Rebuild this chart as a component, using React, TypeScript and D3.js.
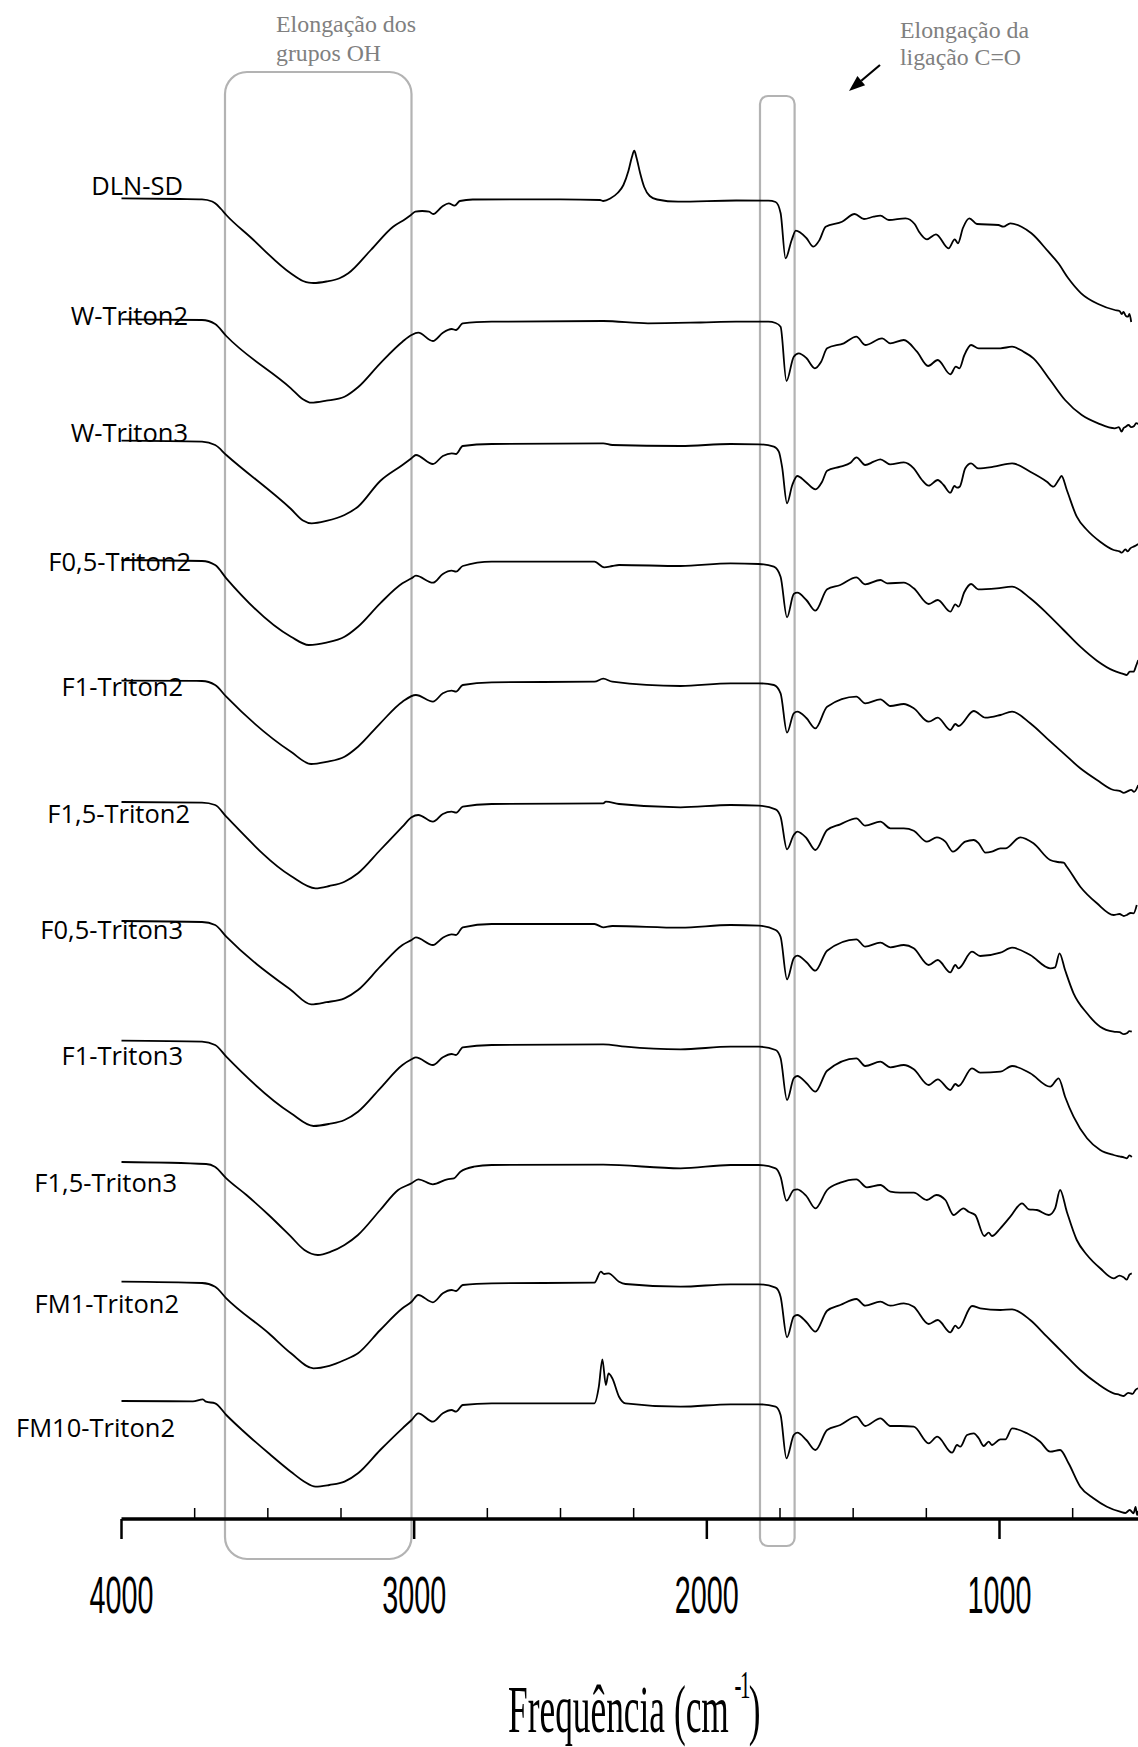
import React from 'react';
import * as d3 from 'd3';

type Pt = [number, number];

// sample labels (top to bottom)
const SAMPLE_NAMES = [
  'DLN-SD', 'W-Triton2', 'W-Triton3', 'F0,5-Triton2', 'F1-Triton2', 'F1,5-Triton2',
  'F0,5-Triton3', 'F1-Triton3', 'F1,5-Triton3', 'FM1-Triton2', 'FM10-Triton2',
];

// spectra: [wavenumber cm-1, transmittance (a.u.)]
const DLN_SD: Pt[] = [[4000,100.7],[3800,100],[3725,99.7],[3690,97.5],[3680,95.7],[3660,90],[3642,84],[3560,62],[3422,25.7],[3380,18],[3360,16.3],[3344,16],[3300,17.5],[3255,20.7],[3225,25.7],[3148,49],[3072,72.3],[3030,80],[3011,84],[2996,87.3],[2973,88],[2949,87.3],[2935,85],[2905,92.3],[2882,95.7],[2862,93.3],[2844,98],[2800,99.5],[2500,99.7],[2365,99],[2354,98],[2330,100.5],[2305,106],[2285,114],[2268,128],[2256,142],[2248,148.3],[2240,141],[2228,126],[2214,112],[2195,103],[2170,99.5],[2098,97.3],[1900,98.5],[1790,98.3],[1765,97],[1748,86],[1731,40.7],[1710,59],[1696,68.3],[1660,61],[1636,52.3],[1615,59],[1594,72.3],[1538,77.3],[1495,85],[1463,80],[1430,82.3],[1407,83.3],[1378,79],[1321,80.7],[1290,75],[1275,67.3],[1248,59.7],[1217,64.7],[1174,50.7],[1153,59.7],[1142,55.7],[1125,71],[1103,80.7],[1077,75],[1004,74],[987,72.3],[963,75.7],[925,72.3],[891,65.7],[833,47.3],[799,35.7],[765,20.7],[721,5.7],[663,-5],[606,-11],[590,-12],[582,-15],[576,-13],[568,-17],[561,-17.7],[556,-15],[550,-23]];
const W_TRITON2: Pt[] = [[4000,99.9],[3725,99.2],[3680,95.2],[3642,83.2],[3421,30.9],[3380,20],[3352,16.5],[3300,18.5],[3238,22.5],[3192,31.9],[3116,55.9],[3040,77.5],[3009,84.2],[2986,86.5],[2936,78.2],[2902,86.5],[2872,90.2],[2857,89.2],[2834,95.9],[2735,97.5],[2354,98.2],[2201,95.9],[2021,96.7],[1900,97.5],[1790,97.5],[1765,96.2],[1748,92.5],[1728,38.2],[1703,62.5],[1686,65.9],[1660,61.2],[1631,50.9],[1610,57.2],[1589,70.9],[1532,75.9],[1489,82.5],[1459,74.2],[1401,80.9],[1373,75.9],[1327,79.2],[1282,67.5],[1244,53.2],[1211,59.2],[1168,44.9],[1149,52.5],[1137,50.9],[1120,64.2],[1097,74.2],[1071,70.9],[997,70.9],[957,72.5],[918,67.5],[884,60.9],[827,39.2],[776,19.2],[719,4.2],[663,-4.1],[606,-9.1],[592,-8],[583,-12.5],[576,-9],[570,-7.8],[559,-5.8],[550,-8],[540,-6.8],[533,-4],[526,-4.8]];
const W_TRITON3: Pt[] = [[4000,98.7],[3725,97.7],[3680,94.4],[3642,84.4],[3421,30.4],[3380,19],[3350,16.1],[3300,18.5],[3238,24.4],[3192,32.7],[3116,58.4],[3040,74.4],[3009,81.1],[2994,84.4],[2936,75.4],[2902,83.4],[2872,86.1],[2857,85.4],[2834,93.4],[2735,95.4],[2354,96.1],[2323,94.4],[2090,93.4],[1919,95.4],[1822,95.1],[1771,92.7],[1754,87.7],[1743,72.7],[1726,36.1],[1708,54.4],[1691,63.4],[1663,57.7],[1629,50.1],[1606,57.7],[1589,68.7],[1544,72.7],[1509,76.7],[1489,82.1],[1459,74.4],[1430,77.7],[1407,80.1],[1374,75.1],[1327,77.1],[1293,71.1],[1265,59.4],[1242,53.7],[1211,59.4],[1191,54.4],[1168,46.7],[1154,53.4],[1145,51.7],[1136,52.7],[1117,71.1],[1097,76.1],[1073,71.1],[1020,72.7],[957,76.1],[895,67.7],[838,57.7],[816,52.7],[798,59.4],[788,63.4],[770,49.4],[736,22.7],[701,9.4],[656,-2.3],[610,-10.6],[590,-12],[582,-13.3],[570,-10],[562,-12],[553,-8.9],[540,-7],[526,-4.6]];
const F05_TRITON2: Pt[] = [[4000,99.6],[3725,98.6],[3680,94.6],[3642,81.3],[3421,22.9],[3360,14.6],[3300,17],[3238,22.9],[3192,32.9],[3116,56.3],[3040,76.3],[3009,81.3],[2994,83.9],[2936,76.9],[2902,85.6],[2872,88.9],[2857,87.9],[2834,93.6],[2735,97.9],[2384,97.9],[2351,92.3],[2323,93.6],[2300,94.6],[2090,93.6],[1919,96.3],[1822,95.6],[1771,92.9],[1748,82.9],[1726,42.3],[1703,65.6],[1691,66.9],[1660,59.6],[1629,48.9],[1589,70.3],[1544,74.6],[1489,82.3],[1459,75.3],[1407,79.6],[1384,76.3],[1327,76.9],[1293,71.3],[1242,55.6],[1211,59.6],[1168,47.9],[1151,55.3],[1140,52.9],[1120,67.6],[1097,75.6],[1073,70.3],[1009,71.3],[957,72.9],[895,61.3],[838,46.3],[781,29.6],[724,12.9],[667,-1.1],[610,-11.1],[580,-14],[565,-15.4],[555,-12],[542,-12.1],[533,-6],[526,-0.4]];
const F1_TRITON2: Pt[] = [[4000,99.1],[3725,98.8],[3680,94.8],[3642,83.1],[3421,28],[3352,15.8],[3300,18],[3238,23.1],[3192,33.1],[3116,56.5],[3040,78.1],[2994,84.8],[2936,78.1],[2902,86.5],[2872,89.1],[2857,88.1],[2834,94.8],[2735,97.5],[2384,98.1],[2354,101.1],[2323,98.1],[2090,93.8],[1919,96.5],[1822,96.5],[1771,94.8],[1748,86.5],[1726,47.1],[1703,66.5],[1691,68.1],[1660,61.8],[1629,51.5],[1589,73.1],[1489,83.1],[1459,76.5],[1407,80.5],[1373,73.8],[1327,75.8],[1293,71.5],[1242,58.1],[1211,62.1],[1168,49.8],[1151,55.8],[1140,53.8],[1088,68.8],[1048,62.1],[997,64.8],[957,68.1],[895,56.5],[838,41.5],[781,26.5],[724,11.5],[667,-0.2],[610,-10.2],[590,-11],[575,-13],[565,-11.9],[550,-10],[540,-12],[526,-5.2]];
const F15_TRITON2: Pt[] = [[4000,98],[3725,97.3],[3680,95],[3642,83.3],[3421,24],[3337,11.7],[3290,14],[3238,18.3],[3192,26.7],[3116,50],[3040,73.3],[3009,82.7],[2986,85],[2936,78.3],[2902,86],[2872,88.3],[2857,87.3],[2834,93.3],[2735,96],[2354,96.7],[2345,98.3],[2300,96],[2090,92.7],[1919,95],[1822,94.3],[1765,90.7],[1748,83.3],[1726,50.7],[1703,65],[1691,68.3],[1660,62],[1629,50],[1589,70],[1544,75.7],[1489,81.7],[1459,74.3],[1407,78.3],[1373,71.7],[1327,71.7],[1293,69.3],[1248,58.3],[1214,62.7],[1185,58.3],[1159,48.3],[1117,58.3],[1088,60],[1071,56.7],[1048,47.3],[1026,48.3],[997,51.7],[980,51.7],[929,62.7],[884,56.7],[827,40],[800,38],[781,37.3],[770,33.3],[724,13.3],[667,-3.3],[610,-15],[590,-14],[575,-16],[565,-15],[552,-13],[542,-13.3],[531,-5]];
const F05_TRITON3: Pt[] = [[4000,99.2],[3725,98.2],[3680,95.2],[3642,83.5],[3421,30.2],[3352,15.9],[3300,18],[3238,21.9],[3192,30.2],[3116,53.5],[3040,75.2],[3009,80.2],[2994,82.9],[2936,75.2],[2902,82.5],[2872,85.9],[2857,85.2],[2834,92.9],[2735,96.2],[2384,96.2],[2354,92.9],[2323,94.2],[2090,92.5],[1919,95.2],[1822,94.5],[1765,90.2],[1748,83.5],[1726,40.9],[1703,61.9],[1691,64.5],[1660,58.2],[1629,49.5],[1589,69.5],[1489,80.9],[1459,73.5],[1407,77.5],[1373,72.9],[1327,75.2],[1293,71.9],[1242,55.2],[1211,60.2],[1168,47.9],[1151,55.2],[1140,51.9],[1094,68.5],[1066,64.2],[997,67.5],[957,72.5],[895,65.2],[827,51.9],[810,52.9],[795,66.9],[776,50.2],[747,26.9],[701,6.9],[656,-6.5],[610,-11.5],[590,-12],[575,-14],[565,-13.1],[556,-11],[548,-11.5]];
const F1_TRITON3: Pt[] = [[4000,99.7],[3725,98.7],[3680,95.4],[3642,83.7],[3421,27.1],[3344,14.4],[3290,16.5],[3238,20.4],[3192,28.7],[3116,52.1],[3040,75.4],[3009,81.1],[2994,83.1],[2936,75.4],[2902,83.1],[2872,86.4],[2857,85.4],[2834,93.1],[2735,95.4],[2354,96.1],[2278,93.7],[2090,91.1],[1919,93.7],[1822,93.7],[1765,90.4],[1748,82.1],[1726,40.4],[1703,62.1],[1691,64.4],[1660,57.4],[1629,48.7],[1589,69.7],[1489,82.1],[1459,74.4],[1407,78.7],[1373,73.1],[1327,75.4],[1293,71.1],[1242,55.4],[1211,61.1],[1168,50.4],[1151,56.4],[1140,54.4],[1094,72.1],[1066,67.7],[997,68.7],[957,74.4],[895,67.1],[827,53.7],[798,62.1],[776,43.7],[747,23.7],[701,2.1],[656,-9.6],[610,-14.6],[590,-16],[575,-17],[565,-17.9],[556,-15],[548,-16.6]];
const F15_TRITON3: Pt[] = [[4000,98.6],[3711,96.6],[3681,93.9],[3642,82.3],[3573,65.6],[3497,45.6],[3421,23.9],[3375,10.6],[3329,5.6],[3285,8.9],[3238,15.6],[3192,25.6],[3116,50.6],[3055,70.6],[3009,77.3],[2986,81.3],[2936,76.3],[2887,81.3],[2864,82.3],[2842,88.9],[2796,93.9],[2735,95.6],[2354,95.9],[2090,92.3],[1919,95.6],[1822,95.6],[1765,92.3],[1748,83.9],[1728,59.9],[1703,70.6],[1691,71.3],[1660,64.6],[1629,52.3],[1589,70.6],[1544,77.9],[1489,81.3],[1453,73.3],[1407,75.6],[1373,68.9],[1339,67.9],[1293,67.9],[1248,60.6],[1216,65.6],[1185,60.6],[1157,45.6],[1123,52.3],[1106,48.9],[1083,45.6],[1052,24.6],[1037,27.9],[1026,24.6],[997,32.3],[963,43.9],[923,57.3],[900,51.3],[872,50.6],[832,45.6],[810,52.3],[793,70.6],[770,48.9],[736,20.6],[701,5.6],[656,-7.7],[610,-17.7],[590,-15],[576,-16.7],[565,-19],[556,-14],[548,-12.7]];
const FM1_TRITON2: Pt[] = [[4000,99.1],[3725,97.8],[3680,94.1],[3642,82.5],[3497,47.5],[3421,27.5],[3344,12.5],[3290,15],[3238,20.8],[3192,27.5],[3116,50.8],[3040,72.5],[3009,79.1],[2986,85.8],[2936,78.5],[2902,87.5],[2872,90.8],[2857,89.8],[2834,95.8],[2735,97.5],[2384,98.1],[2362,109.1],[2351,106.8],[2336,107.5],[2300,99.1],[2278,96.8],[2090,94.1],[1919,96.5],[1822,96.5],[1765,93.1],[1748,84.1],[1726,43.5],[1703,64.1],[1691,65.8],[1660,58.8],[1629,49.1],[1589,70.1],[1544,75.8],[1489,81.8],[1459,75.1],[1407,79.1],[1373,75.1],[1327,77.5],[1293,74.1],[1242,56.8],[1211,60.8],[1168,48.5],[1151,55.1],[1140,52.5],[1094,74.8],[1066,72.5],[997,70.8],[957,71.5],[895,60.8],[838,44.1],[781,27.5],[724,10.8],[667,-2.5],[610,-12.5],[590,-14],[576,-15.2],[560,-12],[545,-13],[535,-9],[526,-7.5]];
const FM10_TRITON2: Pt[] = [[4000,100],[3756,99.7],[3722,101.7],[3711,99.3],[3680,97.7],[3642,86],[3588,71],[3497,47.7],[3421,29.3],[3375,19.3],[3337,14.3],[3290,16],[3238,19.3],[3192,27.7],[3116,51],[3040,72.7],[3009,81],[2986,87.7],[2936,79.3],[2902,87.7],[2872,91],[2857,89.3],[2834,96],[2735,97.7],[2384,97.7],[2369,114.3],[2357,141.7],[2345,116],[2336,127.7],[2323,122.7],[2300,104.3],[2278,97.7],[2090,94.3],[1919,96.7],[1822,96.7],[1765,94.3],[1748,86],[1728,42.7],[1703,66],[1691,68.3],[1660,61],[1629,51],[1589,71],[1544,76],[1489,84.3],[1459,75],[1407,82.7],[1373,75],[1339,75],[1293,74.3],[1242,57.7],[1213,64.3],[1162,48.3],[1145,56],[1134,54.3],[1111,66],[1088,67.7],[1071,62.7],[1054,55],[1037,59.3],[1026,56],[997,61.7],[980,61.7],[957,72.7],[906,67.7],[861,59.3],[827,49.3],[793,51],[764,37.7],[724,14.3],[679,2.7],[633,-5.7],[588,-10.7],[570,-12],[555,-9],[542,-12.3],[535,-6],[530,-14],[526,-10]];

const SPECTRA: Pt[][] = [
  DLN_SD, W_TRITON2, W_TRITON3, F05_TRITON2, F1_TRITON2, F15_TRITON2,
  F05_TRITON3, F1_TRITON3, F15_TRITON3, FM1_TRITON2, FM10_TRITON2,
];

const STACK_STEP = 120.2; // vertical offset between spectra (a.u.)
const MAJOR_TICKS = [4000, 3000, 2000, 1000];
const MINOR_TICKS = [3750, 3500, 3250, 2750, 2500, 2250, 1750, 1500, 1250, 750];

// label layout (right edge x, baseline offset from trace baseline)
const LABEL_RIGHT = [183, 188, 188, 191, 183, 190, 183, 183, 177, 179, 175];
const LABEL_DY = [-4, 6, 3, 11, 16, 23, 19, 25, 31, 32, 36];

export default function App() {
  const W = 1138, H = 1747;
  const x = d3.scaleLinear().domain([4000, 1000]).range([121.5, 999.5]);
  const y = d3.scaleLinear().domain([100, -1300]).range([199, 1599]);
  const line = d3.line<Pt>().x(d => x(d[0])).y(d => y(d[1])).curve(d3.curveMonotoneX);
  const axisY = 1519;
  const gray = '#808080';
  const boxStroke = '#b3b3b3';
  const serif = "'Liberation Serif', 'Times New Roman', serif";

  // arrow geometry
  const a0 = [880, 65], a1 = [849, 91];
  const dx = a1[0] - a0[0], dy = a1[1] - a0[1];
  const L = Math.hypot(dx, dy);
  const ux = dx / L, uy = dy / L;
  const hl = 16, hw = 6;
  const bx = a1[0] - hl * ux, by = a1[1] - hl * uy;
  const head = `${a1[0]},${a1[1]} ${bx - hw * uy},${by + hw * ux} ${bx + hw * uy},${by - hw * ux}`;

  return (
    <div style={{ position: 'absolute', left: 0, top: 0, width: W, height: H, background: '#fff' }}>
      <svg width={W} height={H} viewBox={`0 0 ${W} ${H}`} style={{ display: 'block', background: '#fff' }}>
        {/* highlight boxes */}
        <rect x={225} y={72} width={186.5} height={1487} rx={22} ry={22} fill="none" stroke={boxStroke} strokeWidth={2.2} />
        <rect x={760} y={96} width={34.6} height={1450} rx={8} ry={8} fill="none" stroke={boxStroke} strokeWidth={2.2} />

        {/* spectra */}
        {SPECTRA.map((s, i) => (
          <path key={i} d={line(s.map(p => [p[0], p[1] - i * STACK_STEP] as Pt)) || ''}
            fill="none" stroke="#000" strokeWidth={1.8} strokeLinejoin="round" />
        ))}

        {/* sample labels */}
        {SAMPLE_NAMES.map((n, i) => (
          <text key={n} x={LABEL_RIGHT[i]} y={y(100 - i * STACK_STEP) + LABEL_DY[i]} textAnchor="end"
            fontFamily="'Open Sans', sans-serif" fontSize={25.5} fill="#000">{n}</text>
        ))}

        {/* x axis */}
        <line x1={x(4000)} x2={x(500)} y1={axisY} y2={axisY} stroke="#000" strokeWidth={3.5} />
        {MAJOR_TICKS.map(t => (
          <line key={'M' + t} x1={x(t)} x2={x(t)} y1={axisY} y2={axisY + 20} stroke="#000" strokeWidth={2.5} />
        ))}
        {MINOR_TICKS.map(t => (
          <line key={'m' + t} x1={x(t)} x2={x(t)} y1={axisY} y2={axisY - 11} stroke="#000" strokeWidth={1.5} />
        ))}
        {MAJOR_TICKS.map(t => (
          <text key={'L' + t} x={x(t)} y={1613} textAnchor="middle" fontFamily="'Liberation Sans', Arial, sans-serif"
            fontSize={52} textLength={64} lengthAdjust="spacingAndGlyphs" fill="#000">{String(t)}</text>
        ))}

        {/* axis title */}
        <text transform="translate(508,1732) scale(0.52,1)" fontFamily={serif} fontSize={68} fill="#000">
          Frequência (cm<tspan fontSize={40} dx={11} dy={-34} letterSpacing={-3}>-1</tspan><tspan dy={34}>)</tspan>
        </text>

        {/* annotations */}
        <text x={276} y={32} fontFamily={serif} fontSize={23}
          textLength={140} lengthAdjust="spacingAndGlyphs" fill={gray}>Elongação dos</text>
        <text x={276} y={61} fontFamily={serif} fontSize={23}
          textLength={105} lengthAdjust="spacingAndGlyphs" fill={gray}>grupos OH</text>
        <text x={900} y={37.5} fontFamily={serif} fontSize={23}
          textLength={129} lengthAdjust="spacingAndGlyphs" fill={gray}>Elongação da</text>
        <text x={900} y={65} fontFamily={serif} fontSize={23}
          textLength={121} lengthAdjust="spacingAndGlyphs" fill={gray}>ligação C=O</text>

        {/* arrow */}
        <line x1={a0[0]} y1={a0[1]} x2={bx} y2={by} stroke="#000" strokeWidth={2.2} />
        <polygon points={head} fill="#000" />
      </svg>
    </div>
  );
}
